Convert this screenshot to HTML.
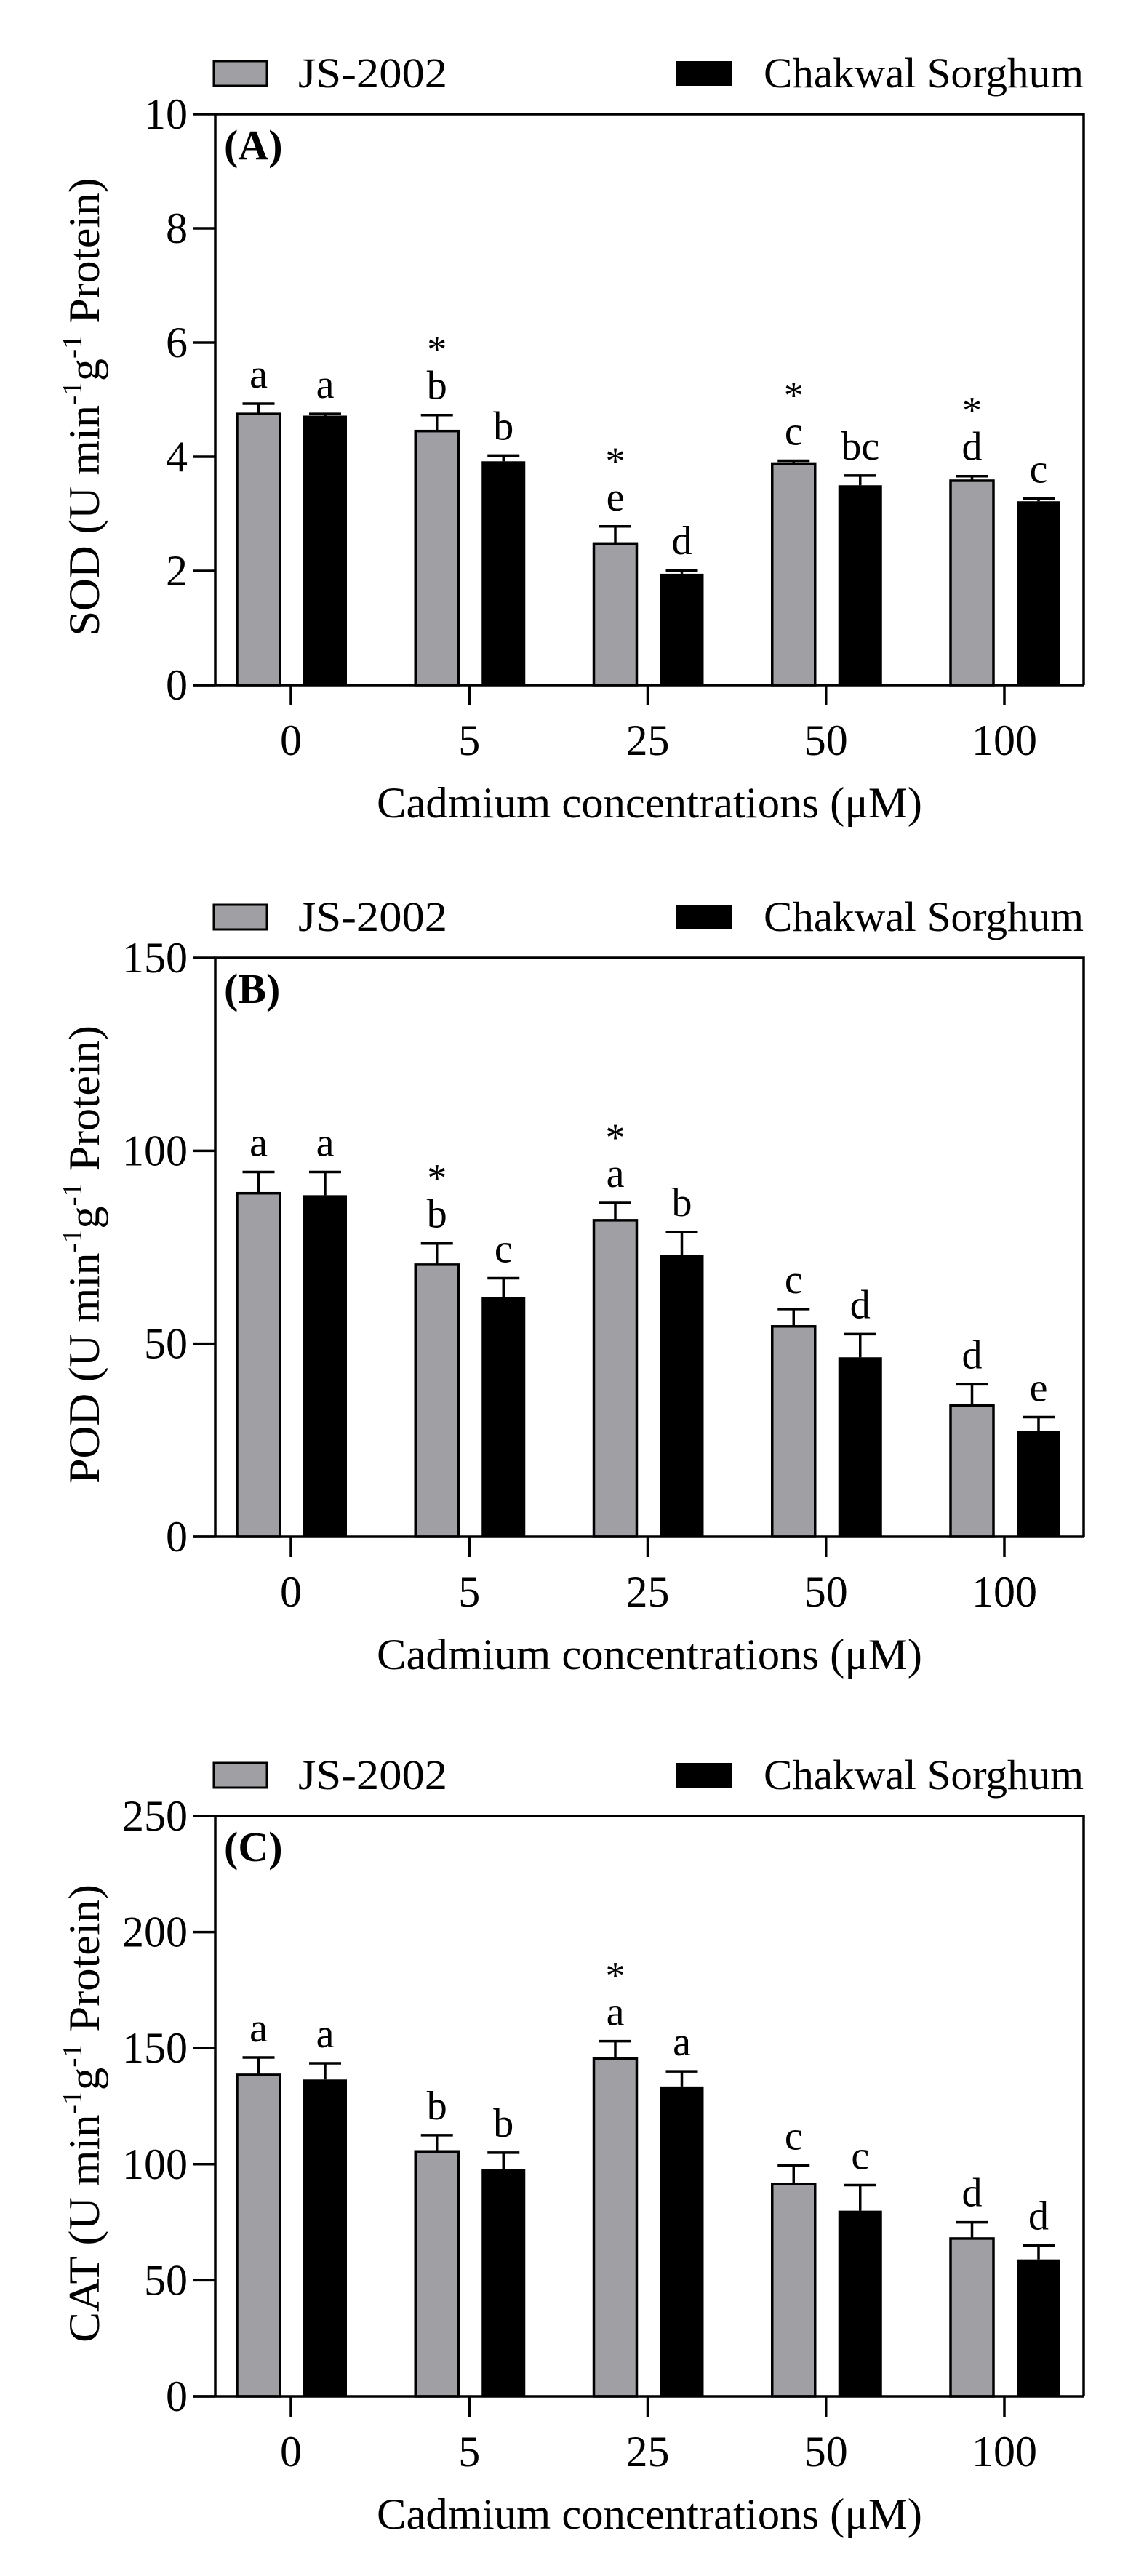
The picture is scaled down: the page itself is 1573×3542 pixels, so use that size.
<!DOCTYPE html>
<html><head><meta charset="utf-8">
<style>
html,body{margin:0;padding:0;background:#fff;}
svg{display:block;}
svg text{font-family:"Liberation Serif","Times New Roman",serif;}
</style></head>
<body>
<svg id="fig" width="1573" height="3542" viewBox="0 0 1573 3542" xmlns="http://www.w3.org/2000/svg"></svg>
<script>
const categories = ["0","5","25","50","100"];
const seriesNames = ["JS-2002","Chakwal Sorghum"];
// Panel A (SOD)
const sodJS = [4.75, 4.45, 2.48, 3.88, 3.58];
const sodJSerr = [0.18, 0.28, 0.30, 0.05, 0.08];
const sodCS = [4.72, 3.92, 1.95, 3.50, 3.22];
const sodCSerr = [0.03, 0.10, 0.06, 0.17, 0.05];
const sodJSlab = ["a","b","e","c","d"];
const sodCSlab = ["a","b","d","bc","c"];
const sodStar = [false,true,true,true,true];
const sodTicks = [0,2,4,6,8,10];
// Panel B (POD)
const podJS = [89, 70.5, 82, 54.5, 34];
const podJSerr = [5.5, 5.5, 4.5, 4.5, 5.5];
const podCS = [88.5, 62, 73, 46.5, 27.5];
const podCSerr = [6, 5, 6, 6, 3.5];
const podJSlab = ["a","b","a","c","d"];
const podCSlab = ["a","c","b","d","e"];
const podStar = [false,true,true,false,false];
const podTicks = [0,50,100,150];
// Panel C (CAT)
const catJS = [138.5, 105.5, 145.5, 91.5, 68];
const catJSerr = [7.5, 7, 7.5, 8, 7];
const catCS = [136.5, 98, 133.5, 80, 59];
const catCSerr = [7, 7, 6.5, 11, 6];
const catJSlab = ["a","b","a","c","d"];
const catCSlab = ["a","b","a","c","d"];
const catStar = [false,false,true,false,false];
const catTicks = [0,50,100,150,200,250];

const svg = document.getElementById('fig');
const NS = "http://www.w3.org/2000/svg";
function mk(tag, attrs, parent){
  const e = document.createElementNS(NS, tag);
  for (const k in attrs) e.setAttribute(k, attrs[k]);
  (parent||svg).appendChild(e);
  return e;
}

const panels = [
  {key:"sod", label:"(A)", title:"SOD", top:157, zero:942, max:10, ticks:sodTicks, js:sodJS, jse:sodJSerr, cs:sodCS, cse:sodCSerr, jl:sodJSlab, cl:sodCSlab, star:sodStar},
  {key:"pod", label:"(B)", title:"POD", top:1317, zero:2113, max:150, ticks:podTicks, js:podJS, jse:podJSerr, cs:podCS, cse:podCSerr, jl:podJSlab, cl:podCSlab, star:podStar},
  {key:"cat", label:"(C)", title:"CAT", top:2497, zero:3295, max:250, ticks:catTicks, js:catJS, jse:catJSerr, cs:catCS, cse:catCSerr, jl:catJSlab, cl:catCSlab, star:catStar}
];

const X0 = 296, XR = 1490;
function xTick(i){ return 400 + 245.25*i; }

panels.forEach(p => {
  const g = mk('g', {});
  
  
  const y = v => p.zero - (v/p.max)*(p.zero - p.top);

  // legend
  const lg = mk('g', {}, g);
  
  
  const ly = p.top - 56;
  const r1 = mk('rect', {x:294, y:ly-17, width:73, height:34, fill:'#a0a0a4', stroke:'#000', 'stroke-width':3}, lg);
  
  
  const t1 = mk('text', {x:410, y:ly+19, 'font-size':58, textLength:205, lengthAdjust:'spacingAndGlyphs'}, lg);
  t1.textContent = seriesNames[0];
  
  
  const r2 = mk('rect', {x:930, y:ly-17, width:77, height:34, fill:'#000'}, lg);
  
  
  const t2 = mk('text', {x:1050, y:ly+19, 'font-size':58, textLength:440, lengthAdjust:'spacingAndGlyphs'}, lg);
  t2.textContent = seriesNames[1];
  
  

  // bars
  for (let i=0;i<categories.length;i++){
    const c = xTick(i);
    const sets = [
      {v:p.js[i], e:p.jse[i], x:c-74, w:59, fill:'#a0a0a4', stroke:true, lab:p.jl[i], star:p.star[i], nm:'js2002'},
      {v:p.cs[i], e:p.cse[i], x:c+17, w:60, fill:'#000', stroke:false, lab:p.cl[i], star:false, nm:'chakwal'}
    ];
    sets.forEach(s => {
      const yt = y(s.v), ye = y(s.v + s.e);
      const cx = s.x + s.w/2;
      const eb = mk('path', {d:`M${cx},${yt} V${ye} M${cx-22},${ye} H${cx+22}`, stroke:'#000', 'stroke-width':3.5, fill:'none'}, g);
      
      
      const b = mk('rect', {x:s.x, y:yt, width:s.w, height:p.zero-yt, fill:s.fill, stroke:'#000', 'stroke-width':s.stroke?3.5:0}, g);
      
      
      const lt = mk('text', {x:cx, y:ye-22, 'font-size':56, 'text-anchor':'middle'}, g);
      lt.textContent = s.lab;
      
      
      if (s.star){
        const st = mk('text', {x:cx, y:ye-72, 'font-size':54, 'text-anchor':'middle'}, g);
        st.textContent = '*';
        
        
      }
    });
  }

  // frame
  const fr = mk('path', {d:`M${X0},${p.zero} V${p.top} H${XR} V${p.zero} M266,${p.zero} H${XR}`, stroke:'#000', 'stroke-width':3.5, fill:'none'}, g);
  
  

  // y ticks
  p.ticks.forEach(t => {
    const yy = y(t);
    const tk = mk('line', {x1:266, x2:X0, y1:yy, y2:yy, stroke:'#000', 'stroke-width':3.5}, g);
    
    
    const tl = mk('text', {x:258, y:yy+20, 'font-size':60, 'text-anchor':'end'}, g);
    tl.textContent = t;
    
    
  });
  // x ticks
  categories.forEach((cat,i) => {
    const xx = xTick(i);
    const tk = mk('line', {x1:xx, x2:xx, y1:p.zero, y2:p.zero+28, stroke:'#000', 'stroke-width':3.5}, g);
    
    
    const tl = mk('text', {x:xx, y:p.zero+96, 'font-size':60, 'text-anchor':'middle'}, g);
    tl.textContent = cat;
    
    
  });

  // panel label
  const pl = mk('text', {x:308, y:p.top+62, 'font-size':58, 'font-weight':'bold'}, g);
  pl.textContent = p.label;
  
  

  // x title
  const xt = mk('text', {x:893, y:p.zero+182, 'font-size':60, 'text-anchor':'middle', textLength:750, lengthAdjust:'spacingAndGlyphs'}, g);
  xt.textContent = 'Cadmium concentrations (\u03bcM)';
  
  

  // y title
  const cy = (p.top + p.zero)/2 + 10;
  const yt = mk('text', {x:0, y:0, 'font-size':60, 'text-anchor':'middle', textLength:630, lengthAdjust:'spacingAndGlyphs', transform:`translate(136,${cy}) rotate(-90)`}, g);
  
  
  const parts = [[p.title+' (U min',0],['-1',1],['g',0],['-1',1],[' Protein)',0]];
  parts.forEach(([txt,sup]) => {
    const ts = mk('tspan', sup ? {'font-size':38} : {}, yt);
    ts.textContent = txt;
  });
  const tsp = yt.querySelectorAll('tspan');
  tsp[1].setAttribute('dy', -24);
  tsp[2].setAttribute('dy', 24);
  tsp[3].setAttribute('dy', -24);
  tsp[4].setAttribute('dy', 24);
});
</script>
</body></html>
